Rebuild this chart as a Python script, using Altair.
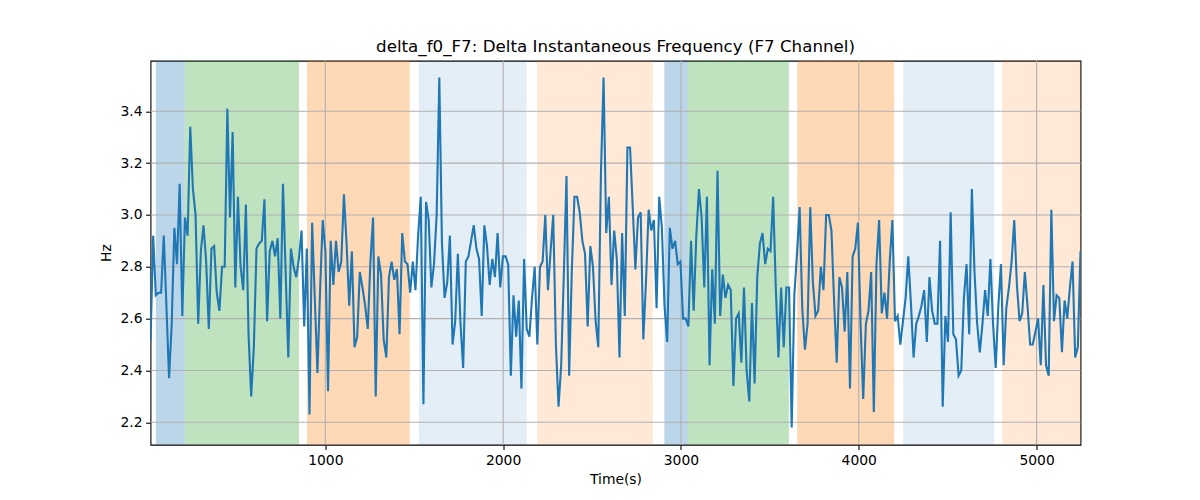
import altair as alt
import pandas as pd

# ---- data ----
t_start = 17.0
t_end = 5247.0

hz_values = [
    # 0-45
    2.51, 2.92, 2.69, 2.70, 2.70, 2.92, 2.65, 2.37, 2.58, 2.95, 2.81, 3.12, 2.61, 2.99, 2.92, 3.34,
    3.10, 3.00, 2.58, 2.86, 2.96, 2.82, 2.56, 2.87, 2.88, 2.70, 2.63, 2.80, 2.80, 3.41, 2.99, 3.32,
    2.72, 3.07, 2.80, 2.71, 3.04, 2.54, 2.30, 2.49, 2.87, 2.89, 2.90, 3.06, 2.59, 2.86,
    # 46-89
    2.90, 2.84, 2.91, 2.60, 3.12, 2.78, 2.45, 2.87, 2.80, 2.76, 2.83, 2.94, 2.57, 2.87, 2.23, 2.97,
    2.68, 2.39, 2.71, 2.98, 2.86, 2.32, 2.90, 2.73, 2.90, 2.78, 2.82, 3.08, 2.89, 2.65, 2.86, 2.49,
    2.53, 2.78, 2.72, 2.65, 2.56, 2.82, 2.99, 2.30, 2.84, 2.77, 2.52, 2.45,
    # 90-133
    2.76, 2.82, 2.75, 2.79, 2.54, 2.93, 2.82, 2.81, 2.70, 2.82, 2.71, 2.92, 3.07, 2.27, 3.05, 2.98,
    2.72, 2.81, 3.00, 3.53, 2.89, 2.68, 2.74, 2.92, 2.50, 2.59, 2.85, 2.58, 2.41, 2.82, 2.84, 2.90,
    2.96, 2.87, 2.83, 2.61, 2.96, 2.88, 2.73, 2.83, 2.76, 2.93, 2.72, 2.84,
    # 134-177
    2.84, 2.81, 2.38, 2.69, 2.53, 2.67, 2.33, 2.83, 2.56, 2.53, 2.68, 2.80, 2.50, 2.80, 2.82, 3.00,
    2.71, 2.86, 3.00, 2.50, 2.26, 2.42, 2.77, 3.15, 2.38, 2.78, 3.07, 3.07, 3.01, 2.90, 2.85, 2.57,
    2.88, 2.80, 2.59, 2.49, 3.16, 3.53, 2.93, 3.07, 2.73, 2.94, 2.83, 2.45,
    # 178-221
    2.93, 2.61, 3.26, 3.26, 3.03, 2.79, 2.99, 3.01, 2.52, 2.74, 3.02, 2.94, 2.98, 2.64, 3.07, 2.95,
    2.65, 2.51, 2.95, 2.87, 2.90, 2.81, 2.82, 2.60, 2.60, 2.57, 2.90, 2.63, 2.92, 3.10, 2.99, 2.72,
    3.07, 2.42, 2.79, 2.58, 3.17, 2.61, 2.77, 2.68, 2.73, 2.71, 2.34, 2.60,
    # 222-266
    2.62, 2.43, 2.72, 2.40, 2.28, 2.66, 2.35, 2.76, 2.89, 2.93, 2.81, 2.87, 2.86, 3.07, 2.72, 2.45,
    2.72, 2.49, 2.72, 2.72, 2.18, 2.69, 2.85, 3.03, 2.64, 2.48, 2.58, 3.03, 2.74, 2.61, 2.63, 2.80,
    2.71, 3.00, 3.00, 2.94, 2.67, 2.43, 2.76, 2.72, 2.55, 2.78, 2.33, 2.84, 2.87,
    # 267-310
    2.97, 2.58, 2.29, 2.58, 2.63, 2.78, 2.24, 2.81, 2.98, 2.62, 2.70, 2.60, 2.82, 2.98, 2.59, 2.61,
    2.50, 2.59, 2.68, 2.84, 2.66, 2.45, 2.58, 2.61, 2.65, 2.71, 2.51, 2.76, 2.63, 2.58, 2.58, 2.90,
    2.26, 2.61, 2.51, 3.01, 2.54, 2.52, 2.38, 2.40, 2.68, 2.81, 2.54, 3.10,
    # 311-351
    2.78, 2.58, 2.47, 2.58, 2.71, 2.61, 2.83, 2.58, 2.41, 2.65, 2.81, 2.42, 2.64, 2.72, 2.82, 2.98,
    2.73, 2.59, 2.62, 2.78, 2.65, 2.50, 2.50, 2.55, 2.60, 2.42, 2.73, 2.42, 2.38, 3.02, 2.59, 2.69,
    2.68, 2.47, 2.67, 2.60, 2.72, 2.82, 2.45, 2.49, 2.86,
]

span_starts = [47, 209, 897, 1527, 2191, 2907, 3039, 3654, 4250, 4807]
span_ends = [209, 852, 1475, 2133, 2842, 3039, 3607, 4199, 4762, 5300]
span_colors = ["#1f77b4", "#2ca02c", "#ff7f0e", "#1f77b4", "#ff7f0e",
               "#1f77b4", "#2ca02c", "#ff7f0e", "#1f77b4", "#ff7f0e"]
span_alpha = [0.3, 0.3, 0.3, 0.12, 0.17, 0.3, 0.3, 0.3, 0.12, 0.17]

x_ticks = [1000, 2000, 3000, 4000, 5000]
y_ticks = [2.2, 2.4, 2.6, 2.8, 3.0, 3.2, 3.4]

y_min, y_max = 2.1136, 3.595

# ---- tables ----
n = len(hz_values)
step = (t_end - t_start) / (n - 1)
line_df = pd.DataFrame({"t": [t_start + i * step for i in range(n)], "hz": hz_values})
span_df = pd.DataFrame({"x0": span_starts, "x1": span_ends, "c": span_colors, "a": span_alpha})
xg_df = pd.DataFrame({"x": x_ticks})
yg_df = pd.DataFrame({"y": y_ticks})

W, H = 930, 384
FONT = "DejaVu Sans"

xscale = alt.Scale(domain=[t_start, t_end], nice=False, zero=False)
yscale = alt.Scale(domain=[y_min, y_max], nice=False, zero=False)

spans = alt.Chart(span_df).mark_rect(clip=True).encode(
    x=alt.X("x0:Q", scale=xscale, title="Time(s)",
            axis=alt.Axis(values=x_ticks, format="d", grid=False)),
    x2="x1:Q",
    y=alt.value(0),
    y2=alt.value(H),
    color=alt.Color("c:N", scale=None),
    opacity=alt.Opacity("a:Q", scale=None),
)

xgrid = alt.Chart(xg_df).mark_rule(color="#b0b0b0", strokeWidth=1.1).encode(
    x=alt.X("x:Q", scale=xscale), y=alt.value(0), y2=alt.value(H)
)
ygrid = alt.Chart(yg_df).mark_rule(color="#b0b0b0", strokeWidth=1.1).encode(
    y=alt.Y("y:Q", scale=yscale), x=alt.value(0), x2=alt.value(W)
)

line = alt.Chart(line_df).mark_line(color="#1f77b4", strokeWidth=2.1, clip=True).encode(
    x=alt.X("t:Q", scale=xscale),
    y=alt.Y("hz:Q", scale=yscale, title="Hz",
            axis=alt.Axis(values=y_ticks, format=".1f", grid=False)),
)

chart = alt.layer(spans, xgrid, ygrid, line).properties(
    width=W,
    height=H,
    autosize=alt.AutoSizeParams(type="none"),
    padding={"left": 142.5, "top": 52.7, "right": 110, "bottom": 52},
    title=alt.TitleParams(
        "delta_f0_F7: Delta Instantaneous Frequency (F7 Channel)",
        font=FONT, fontSize=16.7, fontWeight="normal", color="black",
        anchor="middle", frame="group", baseline="alphabetic", offset=9, dy=18,
    ),
).configure_view(
    stroke="black", strokeWidth=1.1
).configure_axis(
    labelFont=FONT, titleFont=FONT, labelFontSize=13.9, titleFontSize=13.9,
    labelColor="black", titleColor="black", titleFontWeight="normal",
    tickColor="black", tickSize=4.9, tickWidth=1.1, domain=False,
    labelPadding=3.5,
).configure_axisX(
    titlePadding=6,
).configure_axisY(
    titlePadding=7,
)

chart.save("out.html", embed_options={"renderer": "svg", "actions": False})
